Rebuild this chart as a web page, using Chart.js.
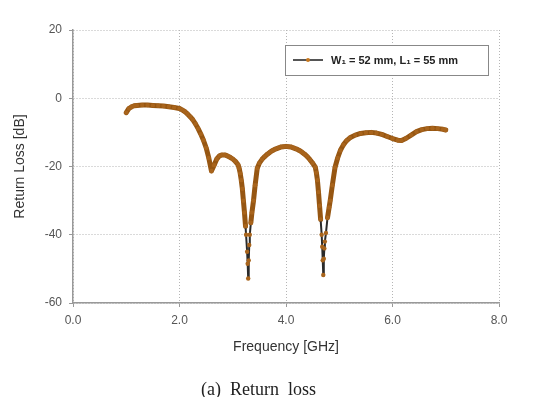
<html>
<head>
<script src="https://cdn.jsdelivr.net/npm/chart.js@4.4.1/dist/chart.umd.min.js"></script>
<style>
  body { margin: 0; background: #fff; }
  #wrap { position: relative; width: 533px; height: 397px; }
  #caption { position: absolute; left: 0; width: 517px; top: 379px; text-align: center;
             font-family: "Liberation Serif", serif; font-size: 18px; color: #222; white-space: pre; }
</style>
</head>
<body>
<div id="wrap">
<canvas id="myChart" width="533" height="397"></canvas>
<div id="caption">(a)  Return  loss</div>
</div>
<script>
var freqGHz = [
  1.00, 1.05, 1.10, 1.15, 1.20, 1.30, 1.40, 1.50, 1.60, 1.70, 1.80, 1.90,
  2.00, 2.05, 2.10, 2.15, 2.20, 2.25, 2.30, 2.35, 2.40, 2.45, 2.50, 2.55,
  2.60, 2.65, 2.70, 2.75, 2.80, 2.85, 2.90, 2.95, 3.00, 3.05, 3.10, 3.12,
  3.14, 3.16, 3.18, 3.20, 3.22, 3.24, 3.25, 3.27, 3.28, 3.29, 3.30, 3.31,
  3.32, 3.34, 3.36, 3.39, 3.42, 3.46, 3.50, 3.55, 3.60, 3.65, 3.70, 3.75,
  3.80, 3.85, 3.90, 3.95, 4.00, 4.05, 4.10, 4.15, 4.20, 4.25, 4.30, 4.35,
  4.40, 4.45, 4.50, 4.55, 4.57, 4.59, 4.61, 4.63, 4.65, 4.67, 4.68, 4.69,
  4.70, 4.71, 4.72, 4.73, 4.75, 4.78, 4.81, 4.83, 4.87, 4.92, 4.97, 5.02,
  5.08, 5.14, 5.20, 5.30, 5.40, 5.50, 5.60, 5.70, 5.80, 5.90, 6.00, 6.10,
  6.17, 6.25, 6.35, 6.45, 6.55, 6.65, 6.75, 6.85, 6.95, 7.00
];
var returnLossDb = [
  -4.2, -3.0, -2.5, -2.2, -2.1, -2.0, -2.0, -2.1, -2.2, -2.3, -2.5, -2.7,
  -3.0, -3.4, -3.9, -4.6, -5.4, -6.3, -7.5, -8.9, -10.5, -12.3, -14.5, -17.5,
  -21.3, -19.6, -17.8, -16.9, -16.6, -16.6, -16.9, -17.3, -17.8, -18.5, -19.5, -20.5,
  -22.0, -24.0, -26.5, -30.0, -33.5, -37.5, -40.0, -45.0, -48.5, -52.8, -47.5, -43.0,
  -40.0, -36.5, -33.5, -30.0, -25.5, -20.5, -19.0, -17.9, -17.1, -16.4, -15.8, -15.3,
  -14.9, -14.6, -14.3, -14.2, -14.1, -14.2, -14.3, -14.6, -14.9, -15.3, -15.8, -16.4,
  -17.1, -18.0, -19.0, -20.2, -21.8, -24.0, -27.5, -31.5, -35.5, -40.0, -43.5, -47.5,
  -51.8, -47.0, -44.0, -42.0, -39.5, -35.0, -32.0, -30.0, -25.5, -20.3, -17.5, -15.3,
  -13.6, -12.4, -11.6, -10.8, -10.3, -10.1, -10.0, -10.2, -10.6, -11.2, -11.8, -12.3,
  -12.4, -11.8, -10.8, -9.8, -9.2, -8.9, -8.8, -8.9, -9.1, -9.3
];
var seriesLabel = 'W\u2081 = 52 mm, L\u2081 = 55 mm';

var points = freqGHz.map(function(f, i){ return {x: f, y: returnLossDb[i]}; });

var brown = '#965612';
// deep part of the notches: thin dark line with separate markers
function steep(sc) {
  return Math.min(sc.p0.parsed.y, sc.p1.parsed.y) < -38;
}

// legend box drawn by hand, inside the plot like the original
var boxLegend = {
  id: 'boxLegend',
  afterDraw: function(chart) {
    var c = chart.ctx;
    c.save();
    c.fillStyle = '#fff';
    c.fillRect(285, 45, 203, 30);
    c.strokeStyle = '#888';
    c.lineWidth = 1;
    c.strokeRect(285.5, 45.5, 203, 30);
    c.strokeStyle = '#555';
    c.lineWidth = 2;
    c.beginPath(); c.moveTo(293, 60); c.lineTo(323, 60); c.stroke();
    c.fillStyle = '#c8781e';
    c.beginPath(); c.arc(308, 60, 2, 0, Math.PI * 2); c.fill();
    c.fillStyle = '#222';
    c.font = 'bold 11px "Liberation Sans", Arial, sans-serif';
    c.textBaseline = 'middle';
    c.fillText(chart.data.datasets[0].label, 331, 60.5);
    c.restore();
  }
};

var ctx = document.getElementById('myChart').getContext('2d');
var myChart = new Chart(ctx, {
  type: 'scatter',
  data: {
    datasets: [{
      label: seriesLabel,
      data: points,
      showLine: true,
      borderColor: brown,
      borderWidth: 5,
      borderJoinStyle: 'round',
      borderCapStyle: 'round',
      segment: {
        borderColor: function(sc){ return steep(sc) ? '#2a2a2a' : undefined; },
        borderWidth: function(sc){ return steep(sc) ? 2 : undefined; }
      },
      pointRadius: 2.2,
      pointBorderWidth: 0,
      pointBackgroundColor: '#a8641c',
      pointBorderColor: '#a8641c'
    }]
  },
  options: {
    responsive: false,
    animation: false,
    layout: { padding: { top: 30, right: 34, bottom: 24, left: 0 } },
    plugins: { legend: { display: false }, tooltip: { enabled: false } },
    scales: {
      x: {
        min: 0, max: 8,
        afterFit: function(s){ s.height = 70; },
        ticks: { stepSize: 2, padding: 6, color: '#555',
                 font: { family: '"Liberation Sans", Arial, sans-serif', size: 12 },
                 callback: function(v){ return v.toFixed(1); } },
        grid: { color: '#b5b5b5', tickLength: 4, tickColor: '#999', tickBorderDash: [] },
        border: { color: '#999', width: 1.5, dash: [1, 2] },
        title: { display: true, text: 'Frequency [GHz]', color: '#333',
                 font: { family: '"Liberation Sans", Arial, sans-serif', size: 14 },
                 padding: { top: 17, bottom: 17 } }
      },
      y: {
        min: -60, max: 20,
        afterFit: function(s){ s.width = 73; },
        ticks: { stepSize: 20, padding: 7, color: '#555',
                 font: { family: '"Liberation Sans", Arial, sans-serif', size: 12 } },
        grid: { color: '#b5b5b5', tickLength: 4, tickColor: '#999', tickBorderDash: [] },
        border: { color: '#999', width: 1.5, dash: [1, 2] },
        title: { display: true, text: 'Return Loss [dB]', color: '#333',
                 font: { family: '"Liberation Sans", Arial, sans-serif', size: 14 },
                 padding: { top: 12, bottom: 12 } }
      }
    }
  },
  plugins: [boxLegend]
});
</script>
</body>
</html>
